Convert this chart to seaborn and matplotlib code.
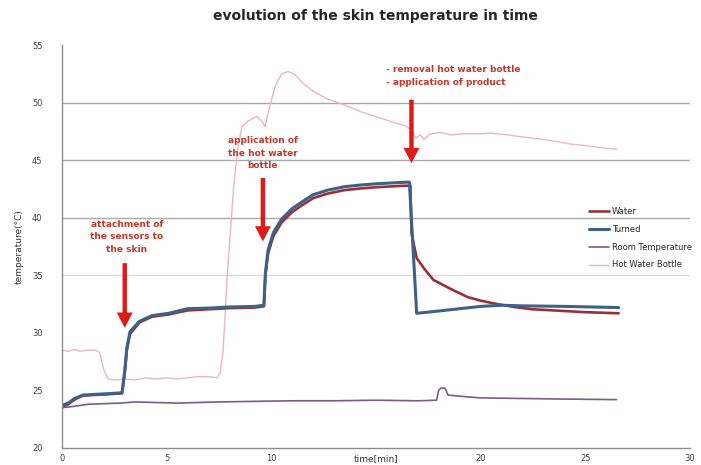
import matplotlib
matplotlib.use("Agg")
import matplotlib.pyplot as plt
import seaborn as sns
import pandas as pd

# --- data ---
water_t = [0, 0.3, 0.6, 1.0, 1.5, 2.0, 2.5, 2.87, 3.0, 3.1, 3.25, 3.7, 4.3, 5.1, 6.0, 7.0, 8.0, 9.2, 9.65,
           9.72, 9.85, 10.1, 10.5, 11.0, 11.4, 12.0, 12.7, 13.5, 14.3, 15.0, 16.0, 16.65,
           16.7, 16.8, 16.95, 17.3, 17.75, 18.7, 19.4, 20.0, 20.8, 21.6, 22.5, 24.0, 25.0, 26.6]
water_v = [23.6, 23.8, 24.2, 24.55, 24.6, 24.65, 24.7, 24.75, 26.5, 28.5, 29.9, 30.9, 31.4, 31.6, 31.95, 32.05, 32.15, 32.2, 32.3,
           35.0, 36.9, 38.4, 39.6, 40.5, 41.0, 41.7, 42.1, 42.4, 42.55, 42.65, 42.75, 42.8,
           38.7, 37.8, 36.5, 35.6, 34.6, 33.7, 33.1, 32.8, 32.5, 32.25, 32.05, 31.9, 31.8, 31.7]

turned_t = [0, 0.3, 0.6, 1.0, 1.5, 2.0, 2.5, 2.87, 3.0, 3.1, 3.25, 3.7, 4.3, 5.1, 6.0, 7.0, 8.0, 9.2, 9.65,
            9.72, 9.85, 10.1, 10.5, 11.0, 11.4, 12.0, 12.7, 13.5, 14.3, 15.0, 16.0, 16.6,
            16.95, 17.5, 18.0, 19.0, 20.0, 21.0, 22.0, 24.0, 26.6]
turned_v = [23.7, 23.9, 24.3, 24.6, 24.65, 24.7, 24.75, 24.8, 26.7, 28.7, 30.1, 31.0, 31.5, 31.7, 32.1, 32.15, 32.25, 32.3, 32.4,
            35.2, 37.2, 38.7, 39.9, 40.8, 41.3, 42.0, 42.4, 42.7, 42.85, 42.95, 43.05, 43.1,
            31.7, 31.8, 31.9, 32.1, 32.3, 32.4, 32.35, 32.3, 32.2]

room_t = [0, 0.5, 1.25, 2.0, 2.8, 3.5, 4.5, 5.5, 6.5, 7.5, 9.2, 11.0, 13.0, 15.0, 17.0, 17.9, 18.0, 18.1,
          18.3, 18.45, 19.0, 20.0, 22.0, 24.0, 26.5]
room_v = [23.5, 23.6, 23.8, 23.85, 23.9, 24.0, 23.95, 23.9, 23.95, 24.0, 24.05, 24.1, 24.1, 24.15, 24.1, 24.15, 25.0, 25.2,
          25.2, 24.6, 24.5, 24.35, 24.3, 24.25, 24.2]

bottle_t = [0, 0.3, 0.6, 0.9, 1.2, 1.6, 1.8, 2.0, 2.2, 2.6, 3.0, 3.5, 4.0, 4.5, 5.0, 5.5, 6.0, 6.5, 7.0, 7.4,
            7.55, 7.7, 7.9, 8.2, 8.4, 8.6, 8.9, 9.3, 9.55, 9.7, 9.9, 10.2, 10.5, 10.8, 11.1, 11.5, 12.0,
            12.7, 13.5, 14.3, 15.0, 15.8, 16.4, 16.7, 16.9, 17.1, 17.3, 17.6, 18.1, 18.6, 19.2, 20.0, 20.5,
            21.3, 22.1, 23.0, 23.7, 24.3, 24.9, 25.7, 26.5]
bottle_v = [28.5, 28.4, 28.55, 28.4, 28.5, 28.5, 28.3, 26.8, 26.0, 25.9, 26.0, 25.9, 26.1, 26.0, 26.1, 26.0, 26.1, 26.2, 26.2, 26.1,
            26.5, 28.4, 35.1, 42.6, 46.0, 47.9, 48.4, 48.8, 48.4, 47.9, 49.5, 51.5, 52.5, 52.7, 52.5, 51.7, 51.0,
            50.3, 49.8, 49.2, 48.8, 48.3, 48.0, 47.6, 46.9, 47.2, 46.8, 47.3, 47.4, 47.2, 47.3, 47.3, 47.35,
            47.2, 47.0, 46.8, 46.6, 46.4, 46.3, 46.1, 45.95]

series_names = ["Water", "Turned", "Room Temperature", "Hot Water Bottle"]
series_t = [water_t, turned_t, room_t, bottle_t]
series_v = [water_v, turned_v, room_v, bottle_v]

x_ticks = [0, 5, 10, 15, 20, 25, 30]
x_tick_labels = ["0", "5", "10", "", "20", "25", "30"]
y_ticks = [20, 25, 30, 35, 40, 45, 50, 55]

annotations = [
    ("attachment of\nthe sensors to\nthe skin", 3.1, 38.35, 3.0, 36.3, 30.2, "center"),
    ("application of\nthe hot water\nbottle", 9.6, 45.6, 9.6, 43.7, 37.7, "center"),
    ("- removal hot water bottle\n- application of product", 15.5, 52.3, 16.7, 50.5, 44.5, "left"),
]

# --- styling ---
colors = {"Water": "#9c2f33", "Turned": "#3d6187",
          "Room Temperature": "#7b5a88", "Hot Water Bottle": "#eab6bf"}
widths = {"Water": 1.9, "Turned": 2.2, "Room Temperature": 1.2, "Hot Water Bottle": 1.0}

sns.set_style("white")
plt.rcParams["font.family"] = ["DejaVu Sans"]

fig = plt.figure(figsize=(7.01, 4.65), dpi=100)
ax = fig.add_axes([0.0884, 0.0366, 0.8956, 0.8664])

for g in [35, 40, 45, 50]:
    ax.axhline(g, color="#dcdcdc" if g == 35 else "#aaaaaa", lw=1.0, zorder=0)

# draw order: bottle behind, then room, water, turned on top
for name in ["Hot Water Bottle", "Room Temperature", "Water", "Turned"]:
    i = series_names.index(name)
    df = pd.DataFrame({"t": series_t[i], "v": series_v[i]})
    sns.lineplot(data=df, x="t", y="v", ax=ax, color=colors[name], lw=widths[name],
                 estimator=None, sort=False, label=name)

for txt, tx, ty, ax_x, y0, y1, ha in annotations:
    ax.text(tx, ty, txt, ha=ha, va="center", fontsize=6.5, color="#c0392b",
            fontweight="bold", linespacing=1.5)
    ax.annotate("", xy=(ax_x, y1), xytext=(ax_x, y0),
                arrowprops=dict(arrowstyle="simple, head_width=1.15, head_length=1.1, tail_width=0.32",
                                mutation_scale=10, fc="#dd1c1a", ec="none"))

ax.set_xlim(0, 30)
ax.set_ylim(20, 55)
ax.set_xticks(x_ticks)
ax.set_xticklabels(x_tick_labels)
ax.set_yticks(y_ticks)
ax.tick_params(axis="x", length=3, width=0.8, color="#909090", pad=1, labelsize=6, labelcolor="#404040")
ax.tick_params(axis="y", length=0, pad=14, labelsize=6, labelcolor="#404040")

for s in ["top", "right"]:
    ax.spines[s].set_visible(False)
for s in ["left", "bottom"]:
    ax.spines[s].set_color("#8c8c8c")
    ax.spines[s].set_linewidth(1.0)

ax.set_xlabel("time[min]", fontsize=6.5, color="#333333")
ax.xaxis.set_label_coords(0.5, -0.0155)
ax.xaxis.label.set_va("top")
ax.set_ylabel("temperature(°C)", fontsize=6.5, color="#333333", labelpad=6)

ax.set_title("evolution of the skin temperature in time", fontsize=10, fontweight="bold", pad=18)

handles, labels = ax.get_legend_handles_labels()
order = [labels.index(n) for n in series_names]
ax.legend([handles[k] for k in order], [labels[k] for k in order], loc="upper left",
          bbox_to_anchor=(0.833, 0.608), frameon=False, fontsize=6, handlelength=2.4,
          labelspacing=1.05, borderpad=0, handletextpad=0.3)

fig.savefig("out.png", dpi=100)
